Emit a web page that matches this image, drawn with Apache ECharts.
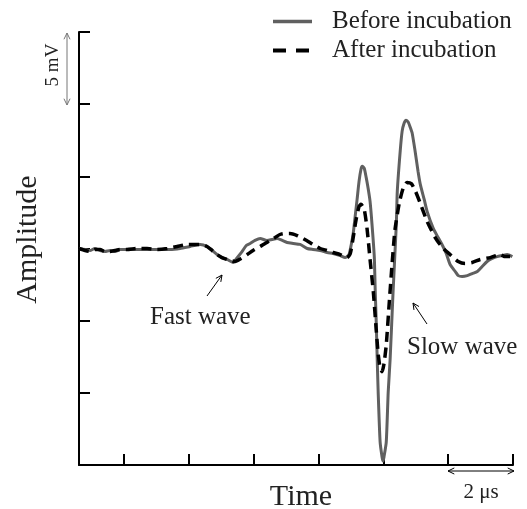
<!DOCTYPE html>
<html>
<head>
<meta charset="utf-8">
<script src="https://cdn.jsdelivr.net/npm/echarts@6/dist/echarts.min.js"></script>
<style>
  html, body { margin: 0; padding: 0; background: #fff; }
  #main { width: 527px; height: 509px; }
</style>
</head>
<body>
<div id="main"></div>
<script>
// time in us, amplitude in mV
var beforeTime = [-1.39, -1.20, -1.05, -0.90, -0.74, -0.59, -0.43, -0.28, -0.12, 0.19, 0.49, 0.80, 1.11, 1.42, 1.73, 2.04, 2.35, 2.56, 2.72, 2.87, 3.02, 3.18, 3.36, 3.49, 3.64, 3.77, 3.89, 4.04, 4.20, 4.41, 4.57, 4.72, 4.88, 5.03, 5.22, 5.43, 5.65, 5.83, 6.05, 6.27, 6.45, 6.67, 6.82, 6.94, 7.01, 7.07, 7.13, 7.19, 7.25, 7.31, 7.35, 7.41, 7.47, 7.53, 7.59, 7.65, 7.72, 7.75, 7.78, 7.81, 7.84, 7.90, 7.96, 7.99, 8.02, 8.09, 8.15, 8.21, 8.30, 8.40, 8.43, 8.52, 8.58, 8.64, 8.70, 8.77, 8.83, 8.89, 8.98, 9.07, 9.14, 9.26, 9.35, 9.54, 9.69, 9.81, 9.94, 10.06, 10.22, 10.31, 10.43, 10.59, 10.74, 10.90, 11.05, 11.20, 11.36, 11.51, 11.67, 11.82, 11.98];
var beforeAmp = [0, -0.07, -0.14, 0, -0.14, -0.21, -0.14, -0.21, -0.07, -0.07, -0.07, -0.07, -0.07, -0.07, 0, 0.14, 0.28, 0.14, -0.14, -0.42, -0.63, -0.76, -0.97, -0.63, -0.21, 0.21, 0.35, 0.56, 0.69, 0.56, 0.63, 0.69, 0.56, 0.42, 0.35, 0.28, 0, -0.07, -0.14, -0.28, -0.35, -0.49, -0.63, -0.42, 0.28, 1.04, 2.22, 3.40, 4.65, 5.49, 5.69, 5.56, 4.93, 4.17, 3.26, 1.67, -0.56, -2.99, -5.07, -7.64, -9.93, -13.40, -14.44, -14.72, -14.44, -13.40, -9.93, -7.64, -2.99, 1.67, 3.96, 6.74, 8.13, 8.68, 8.89, 8.75, 8.40, 7.99, 6.74, 5.35, 4.44, 3.40, 2.57, 1.39, 0.76, 0.28, -0.35, -1.11, -1.60, -1.88, -1.94, -1.88, -1.74, -1.60, -1.25, -0.90, -0.69, -0.56, -0.49, -0.42, -0.56];

var afterTime = [-1.39, -1.20, -1.05, -0.90, -0.74, -0.59, -0.43, -0.28, -0.12, 0.09, 0.40, 0.71, 1.02, 1.33, 1.64, 1.94, 2.35, 2.56, 2.72, 2.87, 3.02, 3.18, 3.43, 3.61, 3.80, 3.98, 4.20, 4.35, 4.51, 4.66, 4.81, 4.97, 5.12, 5.34, 5.52, 5.68, 5.83, 6.05, 6.27, 6.45, 6.67, 6.88, 6.98, 7.07, 7.16, 7.25, 7.31, 7.41, 7.50, 7.59, 7.69, 7.78, 7.84, 7.90, 7.96, 8.02, 8.09, 8.18, 8.27, 8.36, 8.49, 8.61, 8.73, 8.86, 8.98, 9.14, 9.35, 9.60, 9.85, 10.06, 10.31, 10.52, 10.74, 10.99, 11.30, 11.60, 11.76, 11.91];
var afterAmp = [0, -0.14, -0.21, -0.07, -0.07, -0.21, -0.21, -0.14, -0.07, -0.07, 0, 0, -0.07, 0, 0.14, 0.28, 0.28, 0.14, -0.14, -0.42, -0.63, -0.76, -0.90, -0.69, -0.42, -0.14, 0.14, 0.35, 0.56, 0.76, 0.97, 1.04, 1.04, 0.90, 0.69, 0.49, 0.28, 0, -0.14, -0.28, -0.42, -0.63, -0.35, 0.76, 2.01, 2.92, 3.06, 2.71, 1.32, -0.76, -2.99, -5.63, -7.29, -8.26, -8.54, -7.99, -6.67, -3.82, -1.04, 1.32, 3.13, 4.17, 4.58, 4.51, 4.03, 3.13, 1.88, 0.76, 0, -0.42, -0.90, -1.04, -0.97, -0.76, -0.63, -0.42, -0.56, -0.56];

var timeTicks = [0, 2, 4, 6, 8, 10, 12];
var seriesNames = ['Before incubation', 'After incubation'];

function zip(xs, ys) {
  return xs.map(function (x, i) { return [x, ys[i]]; });
}

var serif = "'Liberation Serif', 'Times New Roman', serif";

// simple open arrow made of polylines
function arrow(x1, y1, x2, y2, color, both) {
  var items = [{
    type: 'polyline',
    shape: { points: [[x1, y1], [x2, y2]] },
    style: { stroke: color, lineWidth: 1, fill: null }
  }];
  function head(ax, ay, bx, by) {
    var a = Math.atan2(by - ay, bx - ax);
    var L = 7, s = 0.45;
    items.push({
      type: 'polyline',
      shape: { points: [
        [bx - L * Math.cos(a - s), by - L * Math.sin(a - s)],
        [bx, by],
        [bx - L * Math.cos(a + s), by - L * Math.sin(a + s)]
      ] },
      style: { stroke: color, lineWidth: 1, fill: null }
    });
  }
  head(x1, y1, x2, y2);
  if (both) head(x2, y2, x1, y1);
  return items;
}

var chart = echarts.init(document.getElementById('main'));

var graphics = []
  .concat(arrow(207, 296, 222, 275, '#000'))
  .concat(arrow(427, 324, 413, 303, '#000'))
  .concat(arrow(67, 33, 67, 105, '#777', true))
  .concat(arrow(448, 471, 514, 471, '#000', true));

graphics.push(
  { type: 'text', x: 150, y: 317, style: { text: 'Fast wave', font: '25px ' + serif, fill: '#222', verticalAlign: 'middle' } },
  { type: 'text', x: 407, y: 347, style: { text: 'Slow wave', font: '25px ' + serif, fill: '#222', verticalAlign: 'middle' } },
  { type: 'text', x: 53, y: 65, rotation: Math.PI / 2, style: { text: '5 mV', font: '19px ' + serif, fill: '#222', align: 'center', verticalAlign: 'middle' } },
  { type: 'text', x: 481, y: 492, style: { text: '2 \u03bcs', font: '21px ' + serif, fill: '#222', align: 'center', verticalAlign: 'middle' } }
);

chart.setOption({
  animation: false,
  backgroundColor: '#fff',
  grid: { left: 79, right: 14, top: 32, bottom: 44, outerBoundsMode: 'none' },
  legend: {
    orient: 'vertical',
    left: 271,
    top: 9,
    padding: 0,
    itemWidth: 39,
    itemHeight: 20,
    itemGap: 4,
    itemStyle: { opacity: 0, color: 'rgba(0,0,0,0)', borderWidth: 0 },
    textStyle: { fontFamily: serif, fontSize: 25, color: '#222', padding: [0, 0, 0, 15] },
    data: [
      { name: seriesNames[0], lineStyle: { width: 3.5 } },
      { name: seriesNames[1], lineStyle: { type: [13, 10], width: 4 } }
    ]
  },
  xAxis: {
    type: 'value',
    min: -1.39,
    max: 12,
    name: 'Time',
    nameLocation: 'middle',
    nameGap: 17,
    nameTextStyle: { fontFamily: serif, fontSize: 30, color: '#222', padding: [0, 0, 0, 10] },
    axisLine: { onZero: false, lineStyle: { color: '#000', width: 2 } },
    axisTick: { inside: true, length: 11, customValues: timeTicks, lineStyle: { color: '#000', width: 2 } },
    axisLabel: { show: false },
    splitLine: { show: false }
  },
  yAxis: {
    type: 'value',
    min: -15,
    max: 15,
    interval: 5,
    name: 'Amplitude',
    nameLocation: 'middle',
    nameGap: 36,
    nameTextStyle: { fontFamily: serif, fontSize: 30, color: '#222', padding: [0, 0, 0, 18] },
    axisLine: { onZero: false, lineStyle: { color: '#000', width: 2 } },
    axisTick: { inside: true, length: 11, lineStyle: { color: '#000', width: 2 } },
    axisLabel: { show: false },
    splitLine: { show: false }
  },
  series: [
    {
      name: seriesNames[0],
      type: 'line',
      symbol: 'none',
      smooth: 0.2,
      data: zip(beforeTime, beforeAmp),
      lineStyle: { color: '#606060', width: 3 },
      itemStyle: { color: '#606060' }
    },
    {
      name: seriesNames[1],
      type: 'line',
      symbol: 'none',
      smooth: 0.2,
      data: zip(afterTime, afterAmp),
      lineStyle: { color: '#000', width: 3.5, type: [10, 6] },
      itemStyle: { color: '#000' }
    }
  ],
  graphic: graphics
});
</script>
</body>
</html>
